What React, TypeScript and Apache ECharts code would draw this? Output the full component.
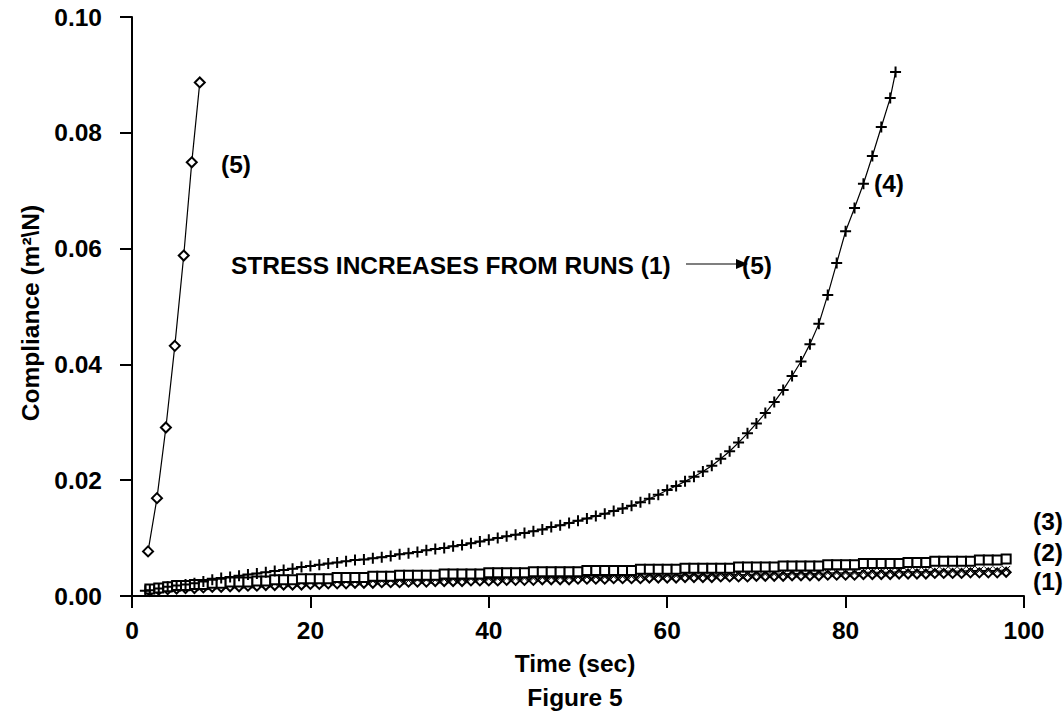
import React, { useEffect, useRef } from "react";
import * as echarts from "echarts";

// ---- Data ----
const X_TICKS = [0, 20, 40, 60, 80, 100];
const Y_TICKS = [0, 0.02, 0.04, 0.06, 0.08, 0.1];

// Run (5): diamonds
const TIME5 = [1.8, 2.8, 3.8, 4.8, 5.8, 6.7, 7.6];
const RUN5 = [0.0077, 0.0169, 0.0291, 0.0432, 0.0588, 0.0749, 0.0887];

// Run (4): plus markers
const TIME4 = [
  1.5, 2, 3, 4, 5, 6, 7, 8, 9, 10, 11, 12, 13, 14, 15, 16, 17, 18, 19, 20, 21, 22, 23, 24, 25, 26, 27, 28, 29,
  30, 31, 32, 33, 34, 35, 36, 37, 38, 39, 40, 41, 42, 43, 44, 45, 46, 47, 48, 49, 50, 51, 52, 53, 54, 55, 56,
  57, 58, 59, 60, 61, 62, 63, 64, 65, 66, 67, 68, 69, 70, 71, 72, 73, 74, 75, 76, 77, 78, 79, 80, 81, 82, 83,
  84, 85, 85.6,
];
const RUN4 = [
  0.0009, 0.001, 0.0013, 0.0016, 0.0018, 0.002, 0.0022, 0.0025, 0.0028, 0.0031, 0.0033, 0.0035, 0.0037, 0.0039,
  0.0041, 0.0043, 0.0045, 0.0047, 0.005, 0.0052, 0.0054, 0.0056, 0.0058, 0.006, 0.0062, 0.0063, 0.0065, 0.0067,
  0.0069, 0.0072, 0.0074, 0.0076, 0.0079, 0.0081, 0.0083, 0.0086, 0.0088, 0.0091, 0.0094, 0.0097, 0.01, 0.0103,
  0.0106, 0.0109, 0.0112, 0.0115, 0.0119, 0.0122, 0.0126, 0.013, 0.0134, 0.0138, 0.0142, 0.0147, 0.0151, 0.0156,
  0.0162, 0.0168, 0.0175, 0.0183, 0.019, 0.0198, 0.0206, 0.0215, 0.0225, 0.0237, 0.025, 0.0265, 0.0281, 0.0298,
  0.0316, 0.0335, 0.0356, 0.038, 0.0405, 0.0435, 0.047, 0.052, 0.0575, 0.063, 0.067, 0.0712, 0.076, 0.081, 0.086,
  0.0905,
];

// Runs (1)-(3): sampled every second
const TIME_LOW = [
  2, 3, 4, 5, 6, 7, 8, 9, 10, 11, 12, 13, 14, 15, 16, 17, 18, 19, 20, 21, 22, 23, 24, 25, 26, 27, 28, 29, 30, 31,
  32, 33, 34, 35, 36, 37, 38, 39, 40, 41, 42, 43, 44, 45, 46, 47, 48, 49, 50, 51, 52, 53, 54, 55, 56, 57, 58, 59,
  60, 61, 62, 63, 64, 65, 66, 67, 68, 69, 70, 71, 72, 73, 74, 75, 76, 77, 78, 79, 80, 81, 82, 83, 84, 85, 86, 87,
  88, 89, 90, 91, 92, 93, 94, 95, 96, 97, 98,
];
const RUN3 = [
  0.0012, 0.0014, 0.0016, 0.0018, 0.0018, 0.002, 0.002, 0.0022, 0.0022, 0.0024, 0.0024, 0.0024, 0.0026, 0.0026,
  0.0028, 0.0028, 0.0028, 0.003, 0.003, 0.003, 0.003, 0.0032, 0.0032, 0.0032, 0.0032, 0.0034, 0.0034, 0.0034,
  0.0036, 0.0036, 0.0036, 0.0036, 0.0036, 0.0038, 0.0038, 0.0038, 0.0038, 0.0038, 0.004, 0.004, 0.004, 0.004,
  0.004, 0.0042, 0.0042, 0.0042, 0.0042, 0.0042, 0.0042, 0.0044, 0.0044, 0.0044, 0.0044, 0.0044, 0.0044, 0.0046,
  0.0046, 0.0046, 0.0046, 0.0046, 0.0048, 0.0048, 0.0048, 0.0048, 0.0048, 0.0048, 0.005, 0.005, 0.005, 0.005,
  0.005, 0.0052, 0.0052, 0.0052, 0.0052, 0.0052, 0.0054, 0.0054, 0.0054, 0.0054, 0.0056, 0.0056, 0.0056, 0.0056,
  0.0056, 0.0058, 0.0058, 0.0058, 0.006, 0.006, 0.006, 0.006, 0.006, 0.0062, 0.0062, 0.0062, 0.0064,
];
const RUN2 = [
  0.001, 0.0012, 0.0013, 0.0014, 0.0015, 0.0016, 0.0017, 0.0018, 0.0019, 0.0019, 0.002, 0.002, 0.0021, 0.0021,
  0.0022, 0.0022, 0.0023, 0.0023, 0.0024, 0.0024, 0.0024, 0.0025, 0.0025, 0.0025, 0.0026, 0.0026, 0.0026, 0.0027,
  0.0027, 0.0027, 0.0028, 0.0028, 0.0028, 0.0029, 0.0029, 0.0029, 0.003, 0.003, 0.003, 0.003, 0.0031, 0.0031,
  0.0031, 0.0031, 0.0032, 0.0032, 0.0032, 0.0032, 0.0033, 0.0033, 0.0033, 0.0033, 0.0034, 0.0034, 0.0034, 0.0034,
  0.0035, 0.0035, 0.0035, 0.0035, 0.0036, 0.0036, 0.0036, 0.0036, 0.0037, 0.0037, 0.0037, 0.0037, 0.0038, 0.0038,
  0.0038, 0.0038, 0.0039, 0.0039, 0.0039, 0.0039, 0.004, 0.004, 0.004, 0.004, 0.0041, 0.0041, 0.0041, 0.0041,
  0.0042, 0.0042, 0.0042, 0.0042, 0.0043, 0.0043, 0.0043, 0.0043, 0.0044, 0.0044, 0.0044, 0.0044, 0.0045,
];
const RUN1 = [
  0.0008, 0.001, 0.0011, 0.0012, 0.0013, 0.0013, 0.0014, 0.0015, 0.0015, 0.0016, 0.0016, 0.0017, 0.0017, 0.0018,
  0.0018, 0.0019, 0.0019, 0.0019, 0.002, 0.002, 0.0021, 0.0021, 0.0021, 0.0022, 0.0022, 0.0022, 0.0023, 0.0023,
  0.0023, 0.0024, 0.0024, 0.0024, 0.0025, 0.0025, 0.0025, 0.0025, 0.0026, 0.0026, 0.0026, 0.0026, 0.0027, 0.0027,
  0.0027, 0.0027, 0.0028, 0.0028, 0.0028, 0.0028, 0.0029, 0.0029, 0.0029, 0.0029, 0.003, 0.003, 0.003, 0.003,
  0.0031, 0.0031, 0.0031, 0.0031, 0.0032, 0.0032, 0.0032, 0.0032, 0.0033, 0.0033, 0.0033, 0.0033, 0.0034, 0.0034,
  0.0034, 0.0034, 0.0035, 0.0035, 0.0035, 0.0035, 0.0036, 0.0036, 0.0036, 0.0036, 0.0037, 0.0037, 0.0037, 0.0037,
  0.0038, 0.0038, 0.0038, 0.0038, 0.0039, 0.0039, 0.0039, 0.0039, 0.004, 0.004, 0.004, 0.004, 0.0041,
];

const zip = (xs: number[], ys: number[]) => xs.map((x, i) => [x, ys[i]]);

const FONT = "'Liberation Sans', Arial, sans-serif";
const FS = 24.5;
const PLUS = "path://M0,5L10,5M5,0L5,10";
const CROSS = "path://M0,0L10,10M10,0L0,10";

export default function App() {
  const ref = useRef<HTMLDivElement>(null);
  useEffect(() => {
    if (!ref.current) return;
    const chart = echarts.init(ref.current, null, { renderer: "svg" });
    const lbl = { fontFamily: FONT, fontWeight: "bold" as const, fontSize: FS, fill: "#000" };
    chart.setOption({
      animation: false,
      backgroundColor: "#fff",
      grid: { left: 132, right: 40, top: 17, bottom: 125 },
      xAxis: {
        type: "value",
        min: X_TICKS[0],
        max: X_TICKS[X_TICKS.length - 1],
        interval: 20,
        axisLine: { lineStyle: { color: "#000", width: 2 } },
        axisTick: { show: true, length: 12, lineStyle: { color: "#000", width: 2 } },
        axisLabel: { color: "#000", fontFamily: FONT, fontWeight: "bold", fontSize: FS, margin: 22 },
        splitLine: { show: false },
      },
      yAxis: {
        type: "value",
        min: Y_TICKS[0],
        max: Y_TICKS[Y_TICKS.length - 1],
        interval: 0.02,
        axisLine: { show: true, lineStyle: { color: "#000", width: 2 } },
        axisTick: { show: true, length: 12, lineStyle: { color: "#000", width: 2 } },
        axisLabel: {
          color: "#000",
          fontFamily: FONT,
          fontWeight: "bold",
          fontSize: FS,
          margin: 30,
          formatter: (v: number) => v.toFixed(2),
        },
        splitLine: { show: false },
      },
      series: [
        {
          name: "(1)",
          type: "line",
          data: zip(TIME_LOW, RUN1),
          symbol: "emptyDiamond",
          symbolSize: 9,
          lineStyle: { color: "#000", width: 1 },
          itemStyle: { color: "#000", borderWidth: 1 },
        },
        {
          name: "(2)",
          type: "line",
          data: zip(TIME_LOW, RUN2),
          symbol: CROSS,
          symbolSize: 8,
          lineStyle: { color: "#000", width: 1 },
          itemStyle: { color: "#000", borderColor: "#000", borderWidth: 1 },
        },
        {
          name: "(3)",
          type: "line",
          data: zip(TIME_LOW, RUN3),
          symbol: "emptyRect",
          symbolSize: 9,
          lineStyle: { color: "#000", width: 1 },
          itemStyle: { color: "#000", borderWidth: 1 },
        },
        {
          name: "(4)",
          type: "line",
          data: zip(TIME4, RUN4),
          symbol: PLUS,
          symbolSize: 11,
          lineStyle: { color: "#000", width: 1.2 },
          itemStyle: { color: "#000", borderColor: "#000", borderWidth: 2 },
        },
        {
          name: "(5)",
          type: "line",
          data: zip(TIME5, RUN5),
          symbol: "emptyDiamond",
          symbolSize: 10,
          lineStyle: { color: "#000", width: 1.2 },
          itemStyle: { color: "#000", borderWidth: 2 },
        },
      ],
      graphic: [
        {
          type: "text",
          x: 30,
          y: 313,
          rotation: Math.PI / 2,
          style: { ...lbl, text: "Compliance (m²\\N)", align: "center", verticalAlign: "middle" },
        },
        { type: "text", x: 575, y: 663, style: { ...lbl, text: "Time (sec)", align: "center", verticalAlign: "middle" } },
        { type: "text", x: 575, y: 697, style: { ...lbl, text: "Figure 5", align: "center", verticalAlign: "middle" } },
        { type: "text", x: 221, y: 164, style: { ...lbl, text: "(5)", align: "left", verticalAlign: "middle" } },
        { type: "text", x: 874, y: 183, style: { ...lbl, text: "(4)", align: "left", verticalAlign: "middle" } },
        {
          type: "text",
          x: 231,
          y: 265,
          style: { ...lbl, text: "STRESS INCREASES FROM RUNS (1)", align: "left", verticalAlign: "middle" },
        },
        { type: "line", shape: { x1: 686, y1: 264, x2: 740, y2: 264 }, style: { stroke: "#000", lineWidth: 1.2 } },
        { type: "polygon", shape: { points: [[748, 264], [736, 259], [736, 269]] }, style: { fill: "#000" } },
        { type: "text", x: 742, y: 265, style: { ...lbl, text: "(5)", align: "left", verticalAlign: "middle" } },
        { type: "text", x: 1063, y: 521, style: { ...lbl, text: "(3)", align: "right", verticalAlign: "middle" } },
        { type: "text", x: 1063, y: 552, style: { ...lbl, text: "(2)", align: "right", verticalAlign: "middle" } },
        { type: "text", x: 1063, y: 581, style: { ...lbl, text: "(1)", align: "right", verticalAlign: "middle" } },
      ],
    });
    return () => chart.dispose();
  }, []);
  return <div ref={ref} style={{ position: "fixed", left: 0, top: 0, width: 1064, height: 721 }} />;
}
